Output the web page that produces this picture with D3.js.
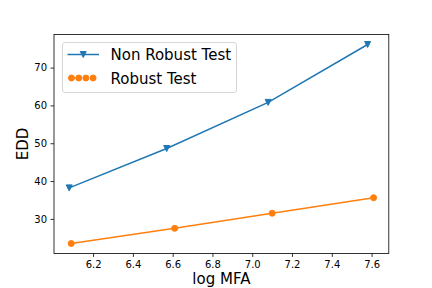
<!DOCTYPE html>
<html>
<head>
<meta charset="utf-8">
<script src="https://cdn.jsdelivr.net/npm/d3@7"></script>
<style>
  body { margin: 0; background: #fff; }
  svg { display: block; font-family: "DejaVu Sans", sans-serif; }
</style>
</head>
<body>
<svg id="chart" width="432" height="288"></svg>
<script>
// Values
const nonRobustX = [6.08, 6.57, 7.08, 7.58];
const nonRobustY = [38.2, 48.6, 60.8, 76.1];
const robustX = [6.09, 6.61, 7.10, 7.61];
const robustY = [23.5, 27.5, 31.5, 35.6];
const xTicks = [6.2, 6.4, 6.6, 6.8, 7.0, 7.2, 7.4, 7.6];
const yTicks = [30, 40, 50, 60, 70];

const series = [
  { name: "Non Robust Test", xs: nonRobustX, ys: nonRobustY, color: "#1f77b4", marker: "tri" },
  { name: "Robust Test", xs: robustX, ys: robustY, color: "#ff7f0e", marker: "dot" }
];

// Axes box like matplotlib defaults
const margin = { top: 34.56, right: 43.2, bottom: 34.56, left: 54 },
  width = 432 - margin.left - margin.right,
  height = 288 - margin.top - margin.bottom;

// Autoscale with 5% padding
function padded(vals) {
  const lo = d3.min(vals), hi = d3.max(vals), p = (hi - lo) * 0.05;
  return [lo - p, hi + p];
}
const x = d3.scaleLinear().domain(padded(nonRobustX.concat(robustX))).range([0, width]);
const y = d3.scaleLinear().domain(padded(nonRobustY.concat(robustY))).range([height, 0]);

const svg = d3.select("#chart");
const g = svg.append("g")
  .attr("transform", "translate(" + margin.left + "," + margin.top + ")");

// Axes
const xAxis = g.append("g")
  .attr("transform", "translate(0," + height + ")")
  .call(d3.axisBottom(x).tickValues(xTicks).tickFormat(d3.format(".1f"))
    .tickSize(3.5).tickPadding(3.5).tickSizeOuter(0));
const yAxis = g.append("g")
  .call(d3.axisLeft(y).tickValues(yTicks).tickSize(3.5).tickPadding(3.5).tickSizeOuter(0));
[xAxis, yAxis].forEach(function (a) {
  a.select(".domain").remove();
  a.selectAll("line").attr("stroke", "#000").attr("stroke-width", 0.8);
  a.selectAll("text").attr("fill", "#000").style("font-size", "10px")
    .style("font-family", "DejaVu Sans, sans-serif");
});

// Lines and markers
const line = d3.line().x(function (d) { return x(d[0]); }).y(function (d) { return y(d[1]); });
const triPath = "M0,3L-3,-3L3,-3Z";

series.forEach(function (s) {
  const pts = s.xs.map(function (v, i) { return [v, s.ys[i]]; });
  g.append("path")
    .datum(pts)
    .attr("fill", "none")
    .attr("stroke", s.color)
    .attr("stroke-width", 1.5)
    .attr("d", line);
  if (s.marker === "tri") {
    g.selectAll(null).data(pts).enter().append("path")
      .attr("d", triPath)
      .attr("transform", function (d) { return "translate(" + x(d[0]) + "," + y(d[1]) + ")"; })
      .attr("fill", s.color).attr("stroke", s.color).attr("stroke-width", 1);
  } else {
    g.selectAll(null).data(pts).enter().append("circle")
      .attr("cx", function (d) { return x(d[0]); })
      .attr("cy", function (d) { return y(d[1]); })
      .attr("r", 3)
      .attr("fill", s.color).attr("stroke", s.color).attr("stroke-width", 1);
  }
});

// Frame
g.append("rect")
  .attr("width", width).attr("height", height)
  .attr("fill", "none").attr("stroke", "#000").attr("stroke-width", 0.8);

// Axis labels
svg.append("text")
  .attr("x", margin.left + width / 2).attr("y", 284)
  .attr("text-anchor", "middle")
  .style("font-size", "15px")
  .text("log MFA");
svg.append("text")
  .attr("transform", "translate(28," + (margin.top + height / 2) + ") rotate(-90)")
  .attr("text-anchor", "middle")
  .style("font-size", "15px")
  .text("EDD");

// Legend
const legend = svg.append("g").attr("transform", "translate(62.5,42.5)");
legend.append("rect")
  .attr("width", 174).attr("height", 50).attr("rx", 2.5)
  .attr("fill", "#fff").attr("fill-opacity", 0.8)
  .attr("stroke", "#cccccc").attr("stroke-width", 0.8);

series.forEach(function (s, i) {
  const ly = 12 + i * 23.5;
  if (s.marker === "tri") {
    legend.append("line")
      .attr("x1", 5).attr("x2", 36.5).attr("y1", ly).attr("y2", ly)
      .attr("stroke", s.color).attr("stroke-width", 1.5);
    legend.append("path").attr("d", triPath)
      .attr("transform", "translate(20.75," + ly + ")")
      .attr("fill", s.color).attr("stroke", s.color).attr("stroke-width", 1);
  } else {
    [9, 16.2, 23.4, 30.6].forEach(function (cx) {
      legend.append("circle").attr("cx", cx).attr("cy", ly).attr("r", 3)
        .attr("fill", s.color).attr("stroke", s.color).attr("stroke-width", 1);
    });
  }
  legend.append("text")
    .attr("x", 48).attr("y", ly + 5.5)
    .style("font-size", "15px")
    .attr("fill", "#000")
    .text(s.name);
});
</script>
</body>
</html>
